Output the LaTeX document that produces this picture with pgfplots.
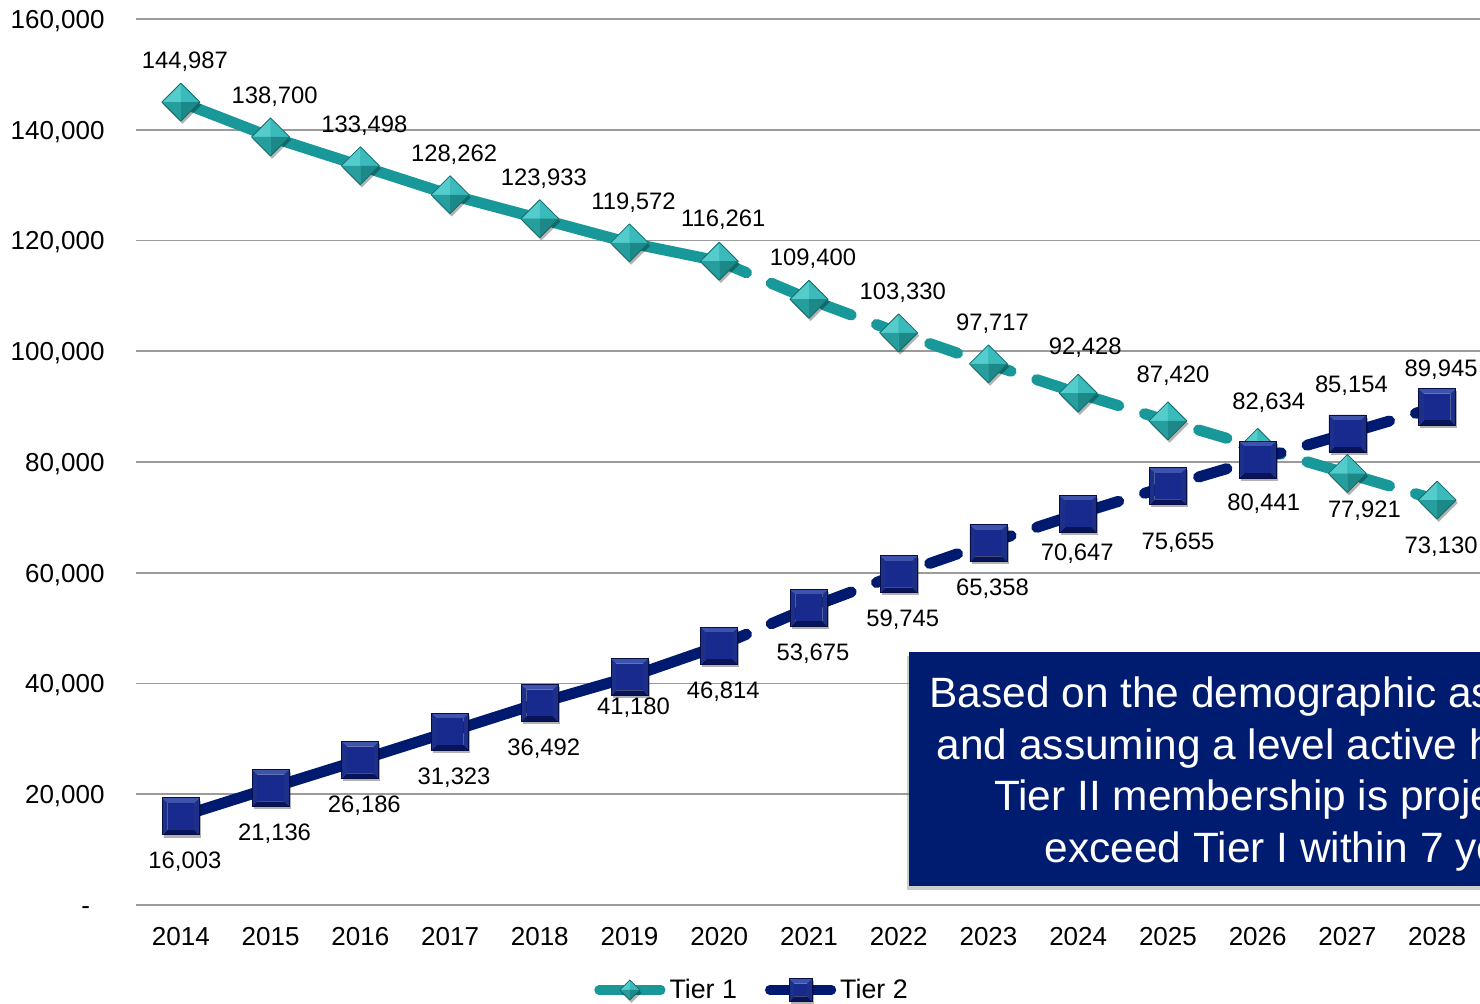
\documentclass[border=0pt]{standalone}
\usepackage{pgfplots}
\pgfplotsset{compat=1.18}
\usepackage{pgfplotstable}
\usepackage{fontspec}
\setmainfont{Liberation Sans}
\usetikzlibrary{shadows}

\definecolor{t1line}{RGB}{24,152,152}
\definecolor{t1a}{RGB}{84,204,204}
\definecolor{t1b}{RGB}{58,186,186}
\definecolor{t1c}{RGB}{28,136,136}
\definecolor{t1d}{RGB}{38,158,158}
\definecolor{t1edge}{RGB}{20,105,105}
\definecolor{t2line}{RGB}{0,26,112}
\definecolor{t2top}{RGB}{62,84,172}
\definecolor{t2side}{RGB}{28,48,138}
\definecolor{t2bot}{RGB}{8,20,88}
\definecolor{t2mid}{RGB}{24,42,142}
\definecolor{t2edge}{RGB}{5,15,70}
\definecolor{boxblue}{RGB}{0,28,112}
\definecolor{gridgray}{RGB}{155,155,155}

\newdimen\mybev

\def\diampath{%
 \pgfpathmoveto{\pgfqpoint{0pt}{\pgfplotmarksize}}%
 \pgfpathlineto{\pgfqpoint{\pgfplotmarksize}{0pt}}%
 \pgfpathlineto{\pgfqpoint{0pt}{-\pgfplotmarksize}}%
 \pgfpathlineto{\pgfqpoint{-\pgfplotmarksize}{0pt}}%
 \pgfpathclose}

\pgfdeclareplotmark{t1mark}{%
 \pgfsetdash{}{0pt}%
 \pgfscope
  \pgfsetfillopacity{0.3}\pgfsetfillcolor{black}%
  \pgftransformshift{\pgfqpoint{0.8pt}{-1.4pt}}%
  \diampath\pgfusepath{fill}%
 \endpgfscope
 \pgfsetfillcolor{t1b}\diampath\pgfusepath{fill}%
 \pgfsetfillcolor{t1a}%
 \pgfpathmoveto{\pgfqpoint{0pt}{0pt}}\pgfpathlineto{\pgfqpoint{-\pgfplotmarksize}{0pt}}\pgfpathlineto{\pgfqpoint{0pt}{\pgfplotmarksize}}\pgfpathclose\pgfusepath{fill}%
 \pgfsetfillcolor{t1b}%
 \pgfpathmoveto{\pgfqpoint{0pt}{0pt}}\pgfpathlineto{\pgfqpoint{0pt}{\pgfplotmarksize}}\pgfpathlineto{\pgfqpoint{\pgfplotmarksize}{0pt}}\pgfpathclose\pgfusepath{fill}%
 \pgfsetfillcolor{t1c}%
 \pgfpathmoveto{\pgfqpoint{0pt}{0pt}}\pgfpathlineto{\pgfqpoint{\pgfplotmarksize}{0pt}}\pgfpathlineto{\pgfqpoint{0pt}{-\pgfplotmarksize}}\pgfpathclose\pgfusepath{fill}%
 \pgfsetfillcolor{t1d}%
 \pgfpathmoveto{\pgfqpoint{0pt}{0pt}}\pgfpathlineto{\pgfqpoint{0pt}{-\pgfplotmarksize}}\pgfpathlineto{\pgfqpoint{-\pgfplotmarksize}{0pt}}\pgfpathclose\pgfusepath{fill}%
 \pgfsetstrokecolor{t1edge}\pgfsetlinewidth{0.4pt}\pgfsetroundjoin
 \diampath\pgfusepath{stroke}%
}

\pgfdeclareplotmark{t2mark}{%
 \pgfsetdash{}{0pt}%
 \mybev=\pgfplotmarksize \advance\mybev by -2.6pt
 \pgfscope
  \pgfsetfillopacity{0.3}\pgfsetfillcolor{black}%
  \pgftransformshift{\pgfqpoint{0.8pt}{-1.4pt}}%
  \pgfpathrectangle{\pgfqpoint{-\pgfplotmarksize}{-\pgfplotmarksize}}{\pgfqpoint{2\pgfplotmarksize}{2\pgfplotmarksize}}%
  \pgfusepath{fill}%
 \endpgfscope
 \pgfsetfillcolor{t2top}%
 \pgfpathmoveto{\pgfqpoint{-\pgfplotmarksize}{\pgfplotmarksize}}\pgfpathlineto{\pgfqpoint{\pgfplotmarksize}{\pgfplotmarksize}}\pgfpathlineto{\pgfqpoint{\mybev}{\mybev}}\pgfpathlineto{\pgfqpoint{-\mybev}{\mybev}}\pgfpathclose\pgfusepath{fill}%
 \pgfsetfillcolor{t2side}%
 \pgfpathmoveto{\pgfqpoint{\pgfplotmarksize}{\pgfplotmarksize}}\pgfpathlineto{\pgfqpoint{\pgfplotmarksize}{-\pgfplotmarksize}}\pgfpathlineto{\pgfqpoint{\mybev}{-\mybev}}\pgfpathlineto{\pgfqpoint{\mybev}{\mybev}}\pgfpathclose\pgfusepath{fill}%
 \pgfsetfillcolor{t2bot}%
 \pgfpathmoveto{\pgfqpoint{\pgfplotmarksize}{-\pgfplotmarksize}}\pgfpathlineto{\pgfqpoint{-\pgfplotmarksize}{-\pgfplotmarksize}}\pgfpathlineto{\pgfqpoint{-\mybev}{-\mybev}}\pgfpathlineto{\pgfqpoint{\mybev}{-\mybev}}\pgfpathclose\pgfusepath{fill}%
 \pgfsetfillcolor{t2side}%
 \pgfpathmoveto{\pgfqpoint{-\pgfplotmarksize}{-\pgfplotmarksize}}\pgfpathlineto{\pgfqpoint{-\pgfplotmarksize}{\pgfplotmarksize}}\pgfpathlineto{\pgfqpoint{-\mybev}{\mybev}}\pgfpathlineto{\pgfqpoint{-\mybev}{-\mybev}}\pgfpathclose\pgfusepath{fill}%
 \pgfsetfillcolor{t2mid}%
 \pgfpathrectangle{\pgfqpoint{-\mybev}{-\mybev}}{\pgfqpoint{2\mybev}{2\mybev}}\pgfusepath{fill}%
 \pgfsetstrokecolor{t2edge}\pgfsetlinewidth{0.4pt}%
 \pgfpathrectangle{\pgfqpoint{-\pgfplotmarksize}{-\pgfplotmarksize}}{\pgfqpoint{2\pgfplotmarksize}{2\pgfplotmarksize}}\pgfusepath{stroke}%
}

\pgfplotstableread{
x y lab dx dy
0 144987 144,987 2 21
1 138700 138,700 2 21
2 133498 133,498 2 21
3 128262 128,262 2 21
4 123933 123,933 2 21
5 119572 119,572 2 21
6 116261 116,261 2 21.5
7 109400 109,400 2 21
8 103330 103,330 2 21
9 97717 97,717 2 21
10 92428 92,428 3.5 23.5
11 87420 87,420 2.5 23.5
12 82634 82,634 5.5 23.5
13 77921 77,921 8.5 -17.5
14 73130 73,130 2 -22.5
}\tone

\pgfplotstableread{
x y lab dx dy
0 16003 16,003 2 -22
1 21136 21,136 2 -22
2 26186 26,186 2 -22
3 31323 31,323 2 -22
4 36492 36,492 2 -22
5 41180 41,180 2 -14.5
6 46814 46,814 2 -22
7 53675 53,675 2 -22
8 59745 59,745 2 -22
9 65358 65,358 2 -22
10 70647 70,647 -0.5 -19
11 75655 75,655 5 -27.5
12 80441 80,441 3 -21
13 85154 85,154 2 25
14 89945 89,945 2 19.5
}\ttwo

\begin{document}
\begin{tikzpicture}
\path[use as bounding box] (0,0) rectangle (740pt,501.5pt);
\begin{axis}[
  at={(68pt,49pt)}, anchor=south west,
  scale only axis, width=673pt, height=443pt,
  xmin=-0.5, xmax=14.5, ymin=0, ymax=160000,
  scaled y ticks=false,
  xtick={0,1,2,3,4,5,6,7,8,9,10,11,12,13,14},
  xticklabels={2014,2015,2016,2017,2018,2019,2020,2021,2022,2023,2024,2025,2026,2027,2028},
  ytick={0,20000,40000,60000,80000,100000,120000,140000,160000},
  yticklabels={-\hphantom{0},{20,000},{40,000},{60,000},{80,000},{100,000},{120,000},{140,000},{160,000}},
  /pgf/number format/assume math mode=true,
  ymajorgrids, grid style={gridgray, line width=0.9pt},
  axis line style={draw=none}, major tick length=0pt,
  tick label style={font=\fontsize{13}{15}\selectfont},
  xticklabel style={anchor=north, inner sep=0pt, yshift=-10.9pt},
  yticklabel style={anchor=base east, inner sep=0pt, xshift=-15.5pt, yshift=-4.65pt},
  clip=false,
  legend style={at={(0.4584,-0.0959)}, anchor=center, draw=none, fill=none,
    legend columns=2, font=\fontsize{13.4}{15}\selectfont,
    /tikz/every even column/.append style={column sep=12pt}},
  lab/.style={nodes near coords, point meta=explicit symbolic,
    visualization depends on={\thisrow{dx}\as\ldx},
    visualization depends on={\thisrow{dy}\as\ldy},
    every node near coord/.append style={anchor=base, inner sep=0pt, text=black,
      font=\fontsize{11.9}{14}\selectfont, xshift={\ldx*1pt}, yshift={(\ldy-4.3)*1pt}}},
]
% Tier 1
\addplot[t1line, line width=5.5pt, line cap=round, line join=round, forget plot,
  restrict x to domain=0:6] table[x=x,y=y] {\tone};
\addplot[t1line, line width=5.5pt, line cap=round, line join=round, forget plot,
  dash pattern=on 14.75pt off 13.5pt,
  restrict x to domain=6:14] table[x=x,y=y] {\tone};
\addplot[only marks, mark=t1mark, mark size=9.5pt, forget plot, lab]
  table[x=x,y=y,meta=lab] {\tone};
% Tier 2
\addplot[t2line, line width=5.5pt, line cap=round, line join=round, forget plot,
  restrict x to domain=0:6] table[x=x,y=y] {\ttwo};
\addplot[t2line, line width=5.5pt, line cap=round, line join=round, forget plot,
  dash pattern=on 14.75pt off 13.5pt,
  restrict x to domain=6:14] table[x=x,y=y] {\ttwo};
\addplot[only marks, mark=t2mark, mark size=9.25pt, forget plot, lab]
  table[x=x,y=y,meta=lab] {\ttwo};

\addlegendimage{legend image code/.code={
  \draw[t1line, line width=4.6pt, line cap=round] (2.3pt,0pt) -- (33.3pt,0pt);
  \draw plot[only marks, mark=t1mark, mark size=5pt] coordinates {(17.8pt,0pt)};}}
\addlegendentry{Tier 1}
\addlegendimage{legend image code/.code={
  \draw[t2line, line width=4.6pt, line cap=round] (2.3pt,0pt) -- (33.3pt,0pt);
  \draw plot[only marks, mark=t2mark, mark size=5.8pt] coordinates {(17.8pt,0pt)};}}
\addlegendentry{Tier 2}
\end{axis}
\node[fill=boxblue, minimum width=399pt, minimum height=117pt, inner sep=0pt,
  drop shadow={shadow xshift=-1.2pt, shadow yshift=-2.2pt, opacity=0.4}]
  at (654pt,117pt) {};
\node[text=white, align=center, inner sep=0pt, font=\fontsize{21.2}{25.9}\selectfont]
  at (654pt,114.5pt) {Based on the demographic assumptions\\and assuming a level active headcount,\\Tier II membership is projected to\\exceed Tier I within 7 years.};
\end{tikzpicture}
\end{document}
